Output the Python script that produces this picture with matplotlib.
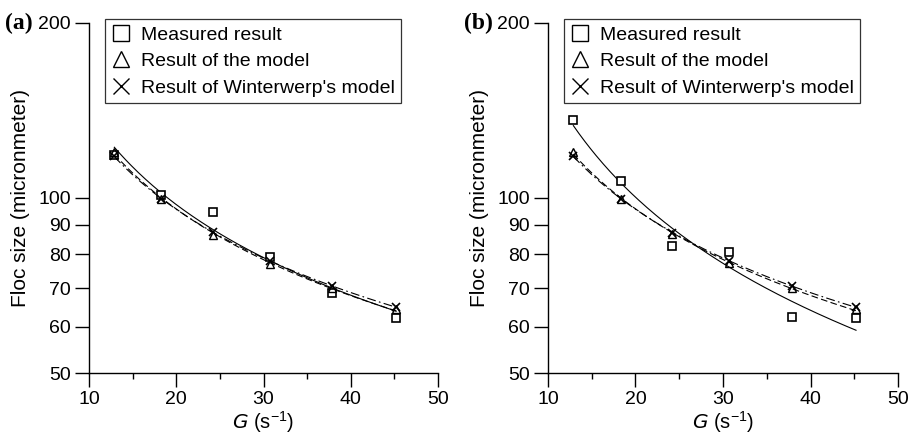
import numpy as np
import matplotlib.pyplot as plt
from matplotlib.lines import Line2D
from matplotlib.ticker import FixedLocator, NullLocator

plt.rcParams['font.family'] = ['Liberation Sans', 'DejaVu Sans']
plt.rcParams['axes.unicode_minus'] = False

# shear rate G (s^-1)
G = [12.9, 18.3, 24.2, 30.7, 37.9, 45.2]

# panel (a)
meas_a = [118.6, 101.0, 94.7, 79.3, 68.7, 62.1]
model_a = [120.0, 99.5, 86.5, 77.0, 69.9, 64.4]
wint_a = [118.0, 99.6, 87.3, 77.8, 70.7, 64.9]

# panel (b)
meas_b = [136.0, 107.0, 82.7, 80.6, 62.3, 62.1]
model_b = [120.0, 99.5, 86.6, 77.2, 69.9, 64.4]
wint_b = [118.2, 99.6, 87.2, 77.8, 70.7, 64.9]

yticks = [50, 60, 70, 80, 90, 100, 200]
xticks = [10, 20, 30, 40, 50]


def power_fit(x, y, xs):
    b, a = np.polyfit(np.log(x), np.log(y), 1)
    return np.exp(a) * xs ** b


fig = plt.figure(figsize=(9.13, 4.42), dpi=100)
ax_a = fig.add_axes([0.0975, 0.1561, 0.3823, 0.7919])
ax_b = fig.add_axes([0.6002, 0.1561, 0.3834, 0.7919])

for ax, meas, model, wint, tag in [(ax_a, meas_a, model_a, wint_a, '(a)'),
                                    (ax_b, meas_b, model_b, wint_b, '(b)')]:
    xs = np.linspace(G[0], G[-1], 200)
    ax.plot(xs, power_fit(G, meas, xs), color='black', lw=0.8, ls='-')
    ax.plot(xs, power_fit(G, model, xs), color='black', lw=0.8, ls=(0, (6, 3)))
    ax.plot(xs, power_fit(G, wint, xs), color='black', lw=0.8, ls=(0, (8, 3, 1.5, 3)))

    ax.plot(G, meas, ls='none', marker='s', ms=6, mfc='white', mec='black', mew=1.2)
    ax.plot(G, model, ls='none', marker='^', ms=6, mfc='none', mec='black', mew=1.0)
    ax.plot(G, wint, ls='none', marker='x', ms=6, mec='black', mew=1.2)

    ax.set_yscale('log')
    ax.set_ylim(50, 200)
    ax.set_xlim(10, 50)
    ax.yaxis.set_major_locator(FixedLocator(yticks))
    ax.yaxis.set_minor_locator(NullLocator())
    ax.set_yticklabels([str(t) for t in yticks])
    ax.set_xticks(xticks)
    ax.set_xticks([15, 25, 35, 45], minor=True)

    for s in ['top', 'right']:
        ax.spines[s].set_visible(False)
    ax.spines['left'].set_linewidth(1.0)
    ax.spines['bottom'].set_linewidth(1.0)
    ax.tick_params(axis='both', which='major', direction='out', length=10, width=1.0,
                   labelsize=14, colors='black', pad=3)
    ax.tick_params(axis='x', which='minor', direction='out', length=4, width=1.0)

    ax.set_xlabel(r'$G$ (s$^{\mathregular{-1}}$)', fontsize=14.5, labelpad=1)
    ax.set_ylabel('Floc size (micronmeter)', fontsize=15, labelpad=6)

    handles = [
        Line2D([], [], ls='none', marker='s', ms=12, mfc='white', mec='black', mew=1.0),
        Line2D([], [], ls='none', marker='^', ms=12, mfc='none', mec='black', mew=1.0),
        Line2D([], [], ls='none', marker='x', ms=12, mec='black', mew=1.0),
    ]
    labels = ['Measured result', 'Result of the model', "Result of Winterwerp's model"]
    leg = ax.legend(handles, labels, loc='upper left', bbox_to_anchor=(0.045, 1.01),
                    fontsize=14, frameon=True, fancybox=False, edgecolor='black',
                    handlelength=1.0, handletextpad=0.5, borderpad=0.35,
                    labelspacing=0.45, borderaxespad=0.0)
    leg.get_frame().set_linewidth(0.9)

    ax.text(-0.24, 1.0, tag, transform=ax.transAxes, fontsize=17, fontweight='bold',
            family='Liberation Serif', va='center', ha='left')

fig.savefig('out.png', dpi=100)
